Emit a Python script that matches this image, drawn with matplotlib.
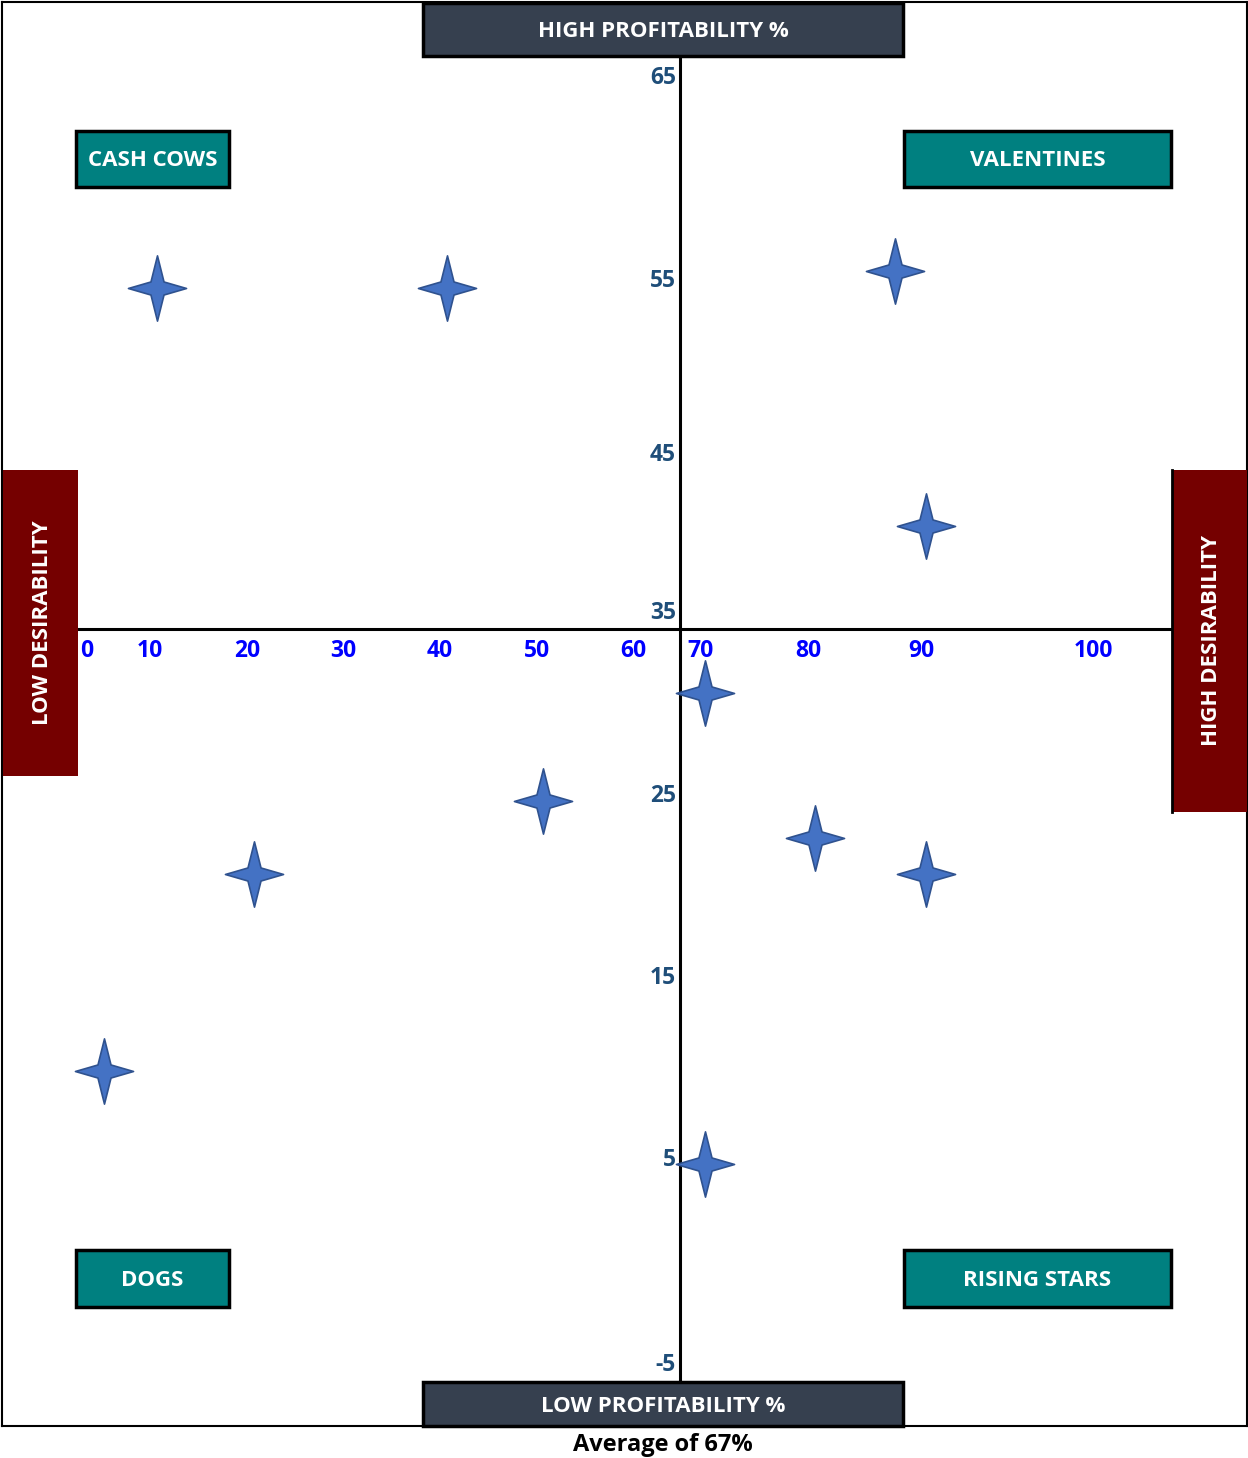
import numpy as np
import matplotlib
matplotlib.use("Agg")
import matplotlib.pyplot as plt
from matplotlib.patches import Rectangle
from matplotlib.path import Path

plt.rcParams['font.family'] = ['Open Sans', 'DejaVu Sans']
plt.rcParams['font.weight'] = 'bold'

# data: desirability (x) vs profitability % (y)
desirability = [10.7, 40.7, 87.7, 90.3, 70.5, 50.6, 20.7, 80.6, 90.3, 2.7, 70.5]
profitability = [54.5, 54.5, 55.4, 40.4, 30.5, 24.6, 20.6, 22.6, 20.6, 9.8, 4.7]
x_ticks = [0, 10, 20, 30, 40, 50, 60, 70, 80, 90, 100]
y_ticks = [65, 55, 45, 35, 25, 15, 5, -5]
x_cross = 67   # average desirability
y_cross = 34

quadrants = ["CASH COWS", "VALENTINES", "DOGS", "RISING STARS"]
axis_titles = ["HIGH PROFITABILITY %", "LOW PROFITABILITY %",
               "LOW DESIRABILITY", "HIGH DESIRABILITY"]
footer = "Average of 67%"

W, H = 1248, 1458

# the source chart has hand-spaced tick labels, so use piecewise scales
x_px = [87, 150, 247, 343, 440, 537, 633, 700, 808, 921, 1093]
y_vals_asc = sorted(y_ticks)
y_px = [H - p for p in [1363, 1158, 976, 794, 611, 453, 279, 76]]


def interp_ext(v, xp, fp):
    v = np.asarray(v, dtype=float)
    xp = np.asarray(xp, dtype=float)
    fp = np.asarray(fp, dtype=float)
    out = np.interp(v, xp, fp)
    lo_slope = (fp[1] - fp[0]) / (xp[1] - xp[0])
    hi_slope = (fp[-1] - fp[-2]) / (xp[-1] - xp[-2])
    out = np.where(v < xp[0], fp[0] + (v - xp[0]) * lo_slope, out)
    out = np.where(v > xp[-1], fp[-1] + (v - xp[-1]) * hi_slope, out)
    return out


def fx(v):
    return interp_ext(v, x_ticks, x_px)


def fx_inv(p):
    return interp_ext(p, x_px, x_ticks)


def fy(v):
    return interp_ext(v, y_vals_asc, y_px)


def fy_inv(p):
    return interp_ext(p, y_px, y_vals_asc)


fig = plt.figure(figsize=(W / 100, H / 100), dpi=100)
left, right, top, bottom = 2, 1247, 2, 1426
ax = fig.add_axes([left / W, 1 - bottom / H, (right - left) / W, (bottom - top) / H])
ax.set_xscale('function', functions=(fx, fx_inv))
ax.set_yscale('function', functions=(fy, fy_inv))
ax.set_xlim(float(fx_inv(left)), float(fx_inv(right)))
ax.set_ylim(float(fy_inv(H - bottom)), float(fy_inv(H - top)))
ax.set_xticks([])
ax.set_yticks([])
ax.minorticks_off()
for s in ax.spines.values():
    s.set_linewidth(1.5)
    s.set_color('black')

ax.axvline(x_cross, color='black', lw=2.2, zorder=2)
ax.axhline(y_cross, color='black', lw=2.2, zorder=2)

for v in x_ticks:
    ax.annotate(str(v), xy=(v, y_cross), xytext=(0, -22), textcoords='offset pixels',
                ha='center', va='center', color='#0000FF', fontsize=16.5, fontweight='bold')
for v in y_ticks:
    ax.annotate(str(v), xy=(x_cross, v), xytext=(-4, -2), textcoords='offset pixels',
                ha='right', va='center', color='#1F4E79', fontsize=16.5, fontweight='bold')

# four-pointed star marker
r = 0.2
star = Path([(0, 1), (r, r), (0.89, 0), (r, -r), (0, -1), (-r, -r),
             (-0.89, 0), (-r, r), (0, 1)], closed=True)
ax.plot(desirability, profitability, linestyle='none', marker=star, markersize=47,
        markerfacecolor='#4472C4', markeredgecolor='#2F528F', markeredgewidth=1.2,
        zorder=4)


def box(x0, y0, x1, y1, text, face, edge, lw, rot=0):
    fig.patches.append(Rectangle((x0 / W, 1 - y1 / H), (x1 - x0) / W, (y1 - y0) / H,
                                 transform=fig.transFigure, facecolor=face,
                                 edgecolor=edge, linewidth=lw, zorder=5))
    cx = (x0 + x1) / 2 + (2 if rot else 0)
    cy = (y0 + y1) / 2 + (0 if rot else 2)
    fig.text(cx / W, 1 - cy / H, text, ha='center', va='center',
             rotation=rot, color='white', fontsize=16, fontweight='bold', zorder=6)


slate = '#36404F'
teal = '#008080'
maroon = '#750000'
box(423, 3, 903, 56, axis_titles[0], slate, 'black', 2.5)
box(423, 1382, 903, 1426, axis_titles[1], slate, 'black', 2.5)
box(3, 470, 78, 776, axis_titles[2], maroon, 'none', 0, rot=90)
box(1172, 470, 1247, 812, axis_titles[3], maroon, 'none', 0, rot=90)
fig.add_artist(plt.Line2D([1172 / W, 1172 / W], [1 - 470 / H, 1 - 812 / H],
                          color='black', lw=2, zorder=7))
box(76, 131, 229, 187, quadrants[0], teal, 'black', 2.5)
box(904, 131, 1171, 187, quadrants[1], teal, 'black', 2.5)
box(76, 1250, 229, 1307, quadrants[2], teal, 'black', 2.5)
box(904, 1250, 1171, 1307, quadrants[3], teal, 'black', 2.5)

fig.text(663 / W, 1 / H, footer, ha='center', va='bottom', color='black',
         fontsize=17, fontweight='bold')

fig.savefig('out.png', dpi=100)
